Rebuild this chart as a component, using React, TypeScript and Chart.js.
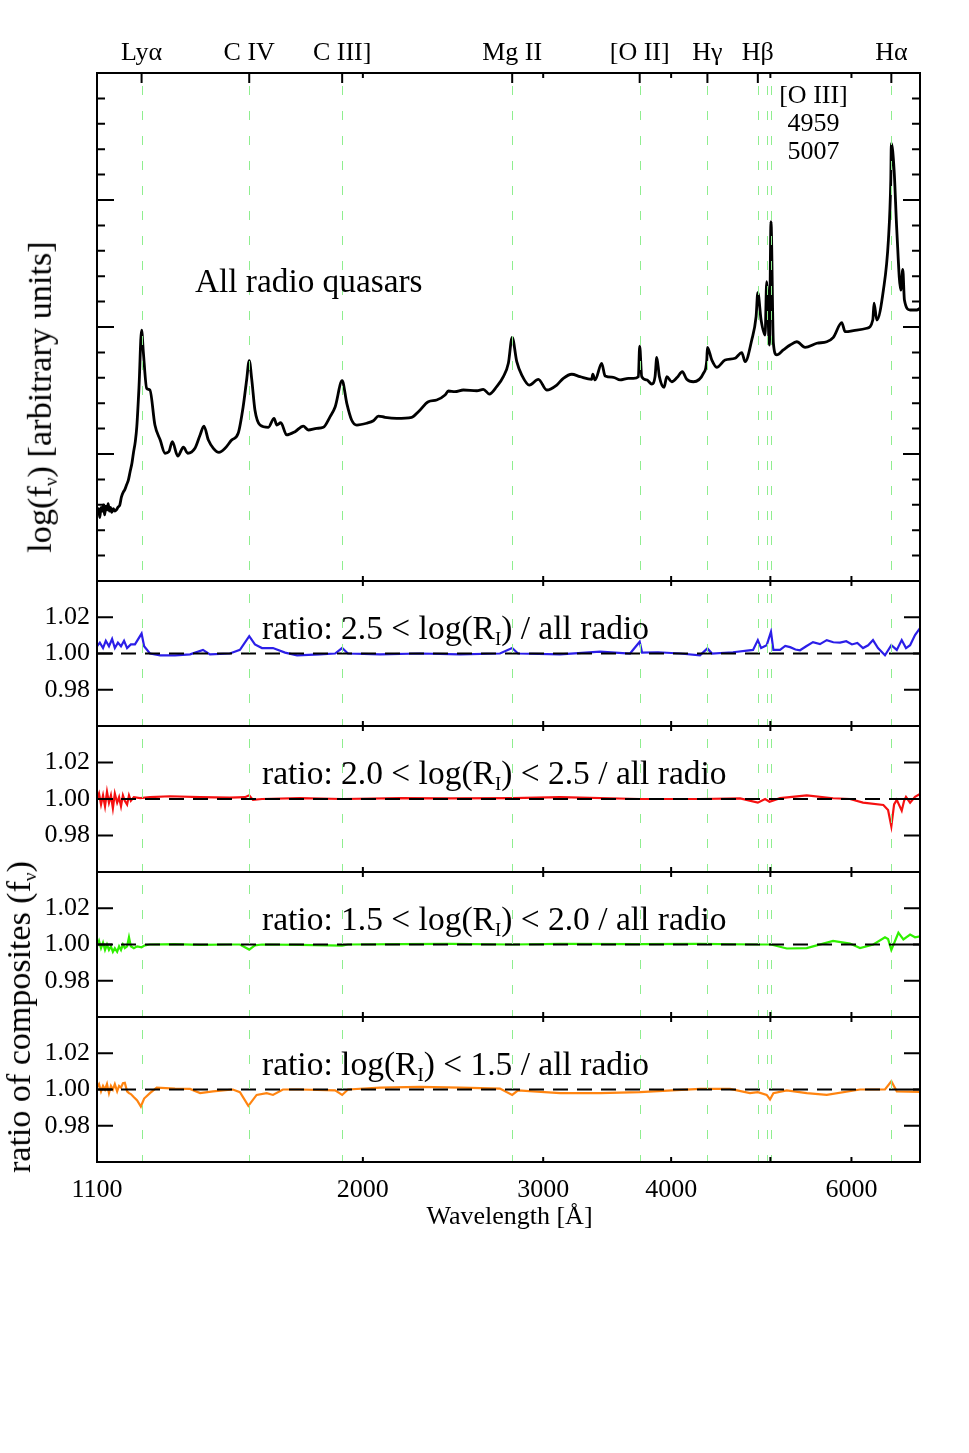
import React, { useEffect, useRef } from "react";
import { Chart, registerables } from "chart.js";

Chart.register(...registerables);

const FONT = "'Liberation Serif', 'Times New Roman', serif";

// ---- axis ranges & ticks ----
const waveMin = 1100;
const waveMax = 7000;
const unityLevel = 1.0;

const lineLabelWaves = [1216, 1549, 1909, 2798, 3727, 4340, 4861, 6563];
const lineLabels = ["Lyα", "C IV", "C III]", "Mg II", "[O II]", "Hγ", "Hβ", "Hα"];
const markerWaves = [1216, 1549, 1909, 2798, 3727, 4340, 4861, 4959, 5007, 6563];
const xMajorTicks = [2000, 3000, 4000, 5000, 6000];
const xTickLabelValues = [1100, 2000, 3000, 4000, 6000];
const fluxTicks = [0, 0.2, 0.4, 0.6, 0.8, 1, 1.2, 1.4, 1.6, 1.8, 2, 2.2, 2.4, 2.6, 2.8, 3, 3.2, 3.4, 3.6, 3.8, 4];
const fluxMajorTicks = [0, 1, 2, 3, 4];
const ratioTicks = [0.98, 1.0, 1.02];

// ---- composite spectrum (log f_nu, arbitrary units) ----
const specWave = [
  1100, 1104, 1107, 1110, 1113, 1116, 1119, 1122, 1125, 1128, 1131, 1134, 1137, 1141, 1145, 1149, 1153, 1158,
  1162, 1167, 1171, 1176, 1180, 1185, 1190, 1194, 1199, 1203, 1209, 1216, 1221, 1230, 1239, 1253, 1268, 1282,
  1293, 1303, 1319, 1336, 1349, 1371, 1387, 1399, 1413, 1429, 1447, 1467, 1489, 1511, 1528, 1540, 1549, 1558,
  1569, 1587, 1617, 1638, 1648, 1663, 1685, 1717, 1749, 1769, 1803, 1830, 1858, 1879, 1909, 1929, 1950, 1973,
  2017, 2048, 2071, 2102, 2158, 2232, 2266, 2317, 2361, 2406, 2424, 2460, 2507, 2584, 2622, 2658, 2702, 2743,
  2774, 2798, 2827, 2859, 2908, 2968, 3024, 3093, 3139, 3199, 3259, 3346, 3354, 3371, 3422, 3448, 3513, 3566,
  3633, 3674, 3716, 3727, 3744, 3787, 3830, 3858, 3873, 3896, 3937, 3961, 4006, 4056, 4102, 4143, 4205, 4301,
  4334, 4340, 4383, 4432, 4516, 4618, 4689, 4724, 4795, 4842, 4861, 4897, 4941, 4959, 4989, 5007, 5034, 5072,
  5148, 5227, 5306, 5406, 5550, 5676, 5761, 5871, 5915, 6073, 6211, 6295, 6313, 6352, 6447, 6520, 6555, 6563,
  6604, 6644, 6704, 6734, 6759, 6846, 6950, 7000,
];
const specFlux = [
  0.53, 0.57, 0.5, 0.58, 0.55, 0.6, 0.52, 0.59, 0.56, 0.61, 0.55, 0.58, 0.54, 0.57, 0.55, 0.56, 0.58, 0.6,
  0.66, 0.7, 0.72, 0.76, 0.79, 0.86, 0.93, 1.01, 1.1, 1.215, 1.53, 1.976, 1.795, 1.517, 1.504, 1.228, 1.11, 1.006,
  1.018, 1.097, 0.984, 1.053, 1.006, 1.045, 1.15, 1.22, 1.11, 1.045, 1.013, 1.045, 1.11, 1.163, 1.372, 1.583, 1.735, 1.583,
  1.346, 1.228, 1.21, 1.281, 1.228, 1.246, 1.15, 1.176, 1.22, 1.189, 1.202, 1.21, 1.294, 1.37, 1.577, 1.399, 1.268, 1.228,
  1.242, 1.262, 1.299, 1.289, 1.281, 1.289, 1.333, 1.412, 1.425, 1.465, 1.496, 1.491, 1.504, 1.498, 1.509, 1.472, 1.53, 1.609,
  1.714, 1.919, 1.727, 1.622, 1.543, 1.588, 1.504, 1.543, 1.596, 1.628, 1.609, 1.588, 1.628, 1.583, 1.714, 1.614, 1.604, 1.583,
  1.596, 1.596, 1.609, 1.85, 1.609, 1.583, 1.551, 1.609, 1.761, 1.609, 1.525, 1.609, 1.569, 1.604, 1.648, 1.588, 1.569, 1.635,
  1.74, 1.84, 1.74, 1.683, 1.74, 1.754, 1.798, 1.727, 1.898, 2.081, 2.27, 2.055, 1.937, 2.357, 1.858, 2.829, 1.872, 1.78,
  1.819, 1.858, 1.884, 1.84, 1.872, 1.884, 1.919, 2.034, 1.963, 1.976, 1.99, 2.055, 2.187, 2.055, 2.291, 2.685, 3.157, 3.446,
  3.236, 2.764, 2.291, 2.454, 2.213, 2.134, 2.134, 2.147,
];

// ---- ratio: 2.5 < log(R_I) / all radio ----
const ratioHighWave = [
  1100, 1107, 1115, 1122, 1130, 1138, 1145, 1153, 1161, 1169, 1177, 1187, 1198, 1216, 1223, 1239, 1268, 1311, 1356, 1396,
  1418, 1483, 1517, 1549, 1569, 1594, 1634, 1679, 1725, 1816, 1879, 1909, 1934, 2079, 2274, 2488, 2722, 2798, 2835, 3116,
  3409, 3647, 3727, 3747, 3884, 4081, 4268, 4340, 4385, 4597, 4809, 4861, 4897, 4959, 5007, 5034, 5110, 5170, 5227, 5290,
  5345, 5420, 5503, 5590, 5676, 5760, 5848, 5930, 6007, 6080, 6158, 6230, 6298, 6369, 6470, 6563, 6644, 6718, 6783, 6846,
  6922, 7000,
];
const ratioHighValue = [
  1.004, 1.006, 1.003, 1.007, 1.004, 1.008, 1.003, 1.006, 1.004, 1.007, 1.003, 1.005, 1.005, 1.011, 1.004, 1.0, 0.999, 0.999, 0.9995, 1.002,
  0.9995, 1.0, 1.002, 1.0096, 1.005, 1.003, 1.003, 1.0005, 0.999, 0.9995, 1.0, 1.003, 1.0, 0.9995, 1.0, 0.9995, 1.0, 1.003, 1.0, 0.9995,
  1.001, 1.0, 1.0065, 1.0005, 1.0007, 1.0, 0.999, 1.0028, 1.0, 1.0007, 1.002, 1.0074, 1.003, 1.0046, 1.012, 1.002, 1.002, 1.0042, 1.0035, 1.0022,
  1.0018, 1.004, 1.0063, 1.0052, 1.0074, 1.0062, 1.006, 1.0068, 1.005, 1.0058, 1.003, 1.0045, 1.0074, 1.003, 0.999, 1.0046, 1.002, 1.0074, 1.003, 1.0046,
  1.0102, 1.014,
];

// ---- ratio: 2.0 < log(R_I) < 2.5 / all radio ----
const ratioMidWave = [
  1100, 1105, 1110, 1115, 1120, 1125, 1130, 1135, 1140, 1145, 1151, 1156, 1161, 1166, 1171, 1177, 1182, 1187, 1195, 1212,
  1239, 1296, 1387, 1483, 1534, 1549, 1562, 1594, 1736, 1909, 2174, 2433, 2798, 3116, 3727, 4268, 4671, 4861, 4941, 4990,
  5110, 5426, 5757, 5980, 6158, 6446, 6515, 6563, 6604, 6644, 6718, 6754, 6783, 6846, 6922, 7000,
];
const ratioMidValue = [
  1.0, 1.003, 0.997, 1.002, 0.996, 1.004, 0.998, 1.002, 0.995, 1.003, 0.998, 1.001, 0.996, 1.002, 0.999, 0.997, 1.002, 0.999, 1.001, 1.0005,
  1.001, 1.0015, 1.001, 1.0008, 1.001, 1.002, 0.9995, 1.0, 1.0005, 1.0, 1.0005, 1.0003, 1.0005, 1.001, 1.0, 1.0, 1.0003, 0.998, 1.0, 0.9985,
  1.0005, 1.002, 1.0004, 1.0, 0.998, 0.9967, 0.994, 0.985, 0.997, 0.9995, 0.9936, 0.999, 1.0012, 0.998, 1.0012, 1.0028,
];

// ---- ratio: 1.5 < log(R_I) < 2.0 / all radio ----
const ratioLowWave = [
  1100, 1105, 1110, 1115, 1120, 1125, 1130, 1135, 1140, 1145, 1151, 1156, 1161, 1166, 1171, 1177, 1182, 1187, 1195, 1204,
  1216, 1225, 1239, 1311, 1387, 1483, 1517, 1549, 1569, 1594, 1736, 1909, 1934, 2174, 2433, 2798, 3116, 3727, 4268, 4861,
  5007, 5188, 5426, 5757, 5980, 6117, 6303, 6470, 6515, 6563, 6668, 6743, 6846, 6922, 7000,
];
const ratioLowValue = [
  0.999, 1.002, 0.998, 1.001, 0.997, 1.0, 0.997, 0.999, 0.996, 0.998, 0.996, 0.999, 0.997, 1.0, 0.998, 0.999, 1.004, 0.999, 0.998, 0.999,
  0.9985, 0.9995, 1.0, 1.0002, 0.9998, 1.0, 1.0, 0.9972, 0.9995, 1.0, 0.9998, 0.9994, 1.0, 1.0002, 1.0003, 1.0, 1.0003, 1.0002, 1.0003, 1.0,
  1.0, 0.9978, 0.998, 1.002, 1.0005, 0.998, 1.0, 1.004, 1.003, 0.997, 1.0065, 1.0028, 1.0055, 1.004, 1.0045,
];

// ---- ratio: log(R_I) < 1.5 / all radio ----
const ratioLowestWave = [
  1100, 1105, 1110, 1115, 1120, 1125, 1130, 1135, 1140, 1145, 1151, 1156, 1161, 1166, 1171, 1177, 1182, 1187, 1194, 1204,
  1214, 1223, 1239, 1258, 1311, 1356, 1387, 1428, 1493, 1517, 1546, 1575, 1611, 1634, 1671, 1736, 1879, 1909, 1934, 2079,
  2274, 2488, 2722, 2798, 2835, 3116, 3409, 3727, 4268, 4566, 4776, 4861, 4959, 4996, 5034, 5188, 5426, 5676, 6117, 6470,
  6563, 6644, 7000,
];
const ratioLowestValue = [
  1.001, 1.003, 0.999, 1.002, 1.0, 1.003, 0.998, 1.002, 1.0, 1.003, 0.999, 1.002, 1.001, 1.0035, 1.0037, 0.999, 0.998, 0.9975, 0.996, 0.994,
  0.9906, 0.995, 0.998, 1.001, 1.0005, 1.0003, 0.998, 0.999, 1.0, 0.9985, 0.991, 0.997, 0.998, 0.997, 1.0, 1.0, 0.9995, 0.997, 1.0, 1.001,
  1.0015, 1.001, 1.0005, 0.997, 0.9995, 0.998, 0.998, 0.9985, 1.0003, 1.0003, 0.998, 0.9985, 0.997, 0.9945, 0.998, 0.9995, 0.998, 0.997, 1.0, 1.0,
  1.0045, 0.999, 0.9987,
];

const toPoints = (w: number[], v: number[]) => w.map((x, i) => ({ x, y: v[i] }));

type DecorOpts = {
  yTicks: number[];
  yMajor: number[];
  majorLen: number;
  minorLen: number;
  topLineTicks?: number[];
};

function makeDecor(opts: DecorOpts) {
  return {
    id: "decor",
    afterDatasetsDraw(chart: any) {
      const { ctx, chartArea: a } = chart;
      const xs = chart.scales.x;
      ctx.save();
      ctx.beginPath();
      ctx.rect(a.left, a.top, a.right - a.left, a.bottom - a.top);
      ctx.clip();
      ctx.strokeStyle = "#8fee8f";
      ctx.lineWidth = 1;
      ctx.setLineDash([9, 16]);
      ctx.lineDashOffset = 12;
      for (const w of markerWaves) {
        const px = Math.round(xs.getPixelForValue(w)) + 0.5;
        ctx.beginPath();
        ctx.moveTo(px, a.top);
        ctx.lineTo(px, a.bottom);
        ctx.stroke();
      }
      ctx.restore();
    },
    afterDraw(chart: any) {
      const { ctx, chartArea: a } = chart;
      const xs = chart.scales.x;
      const ys = chart.scales.y;
      ctx.save();
      ctx.strokeStyle = "#000";
      ctx.lineWidth = 2;
      ctx.setLineDash([]);
      ctx.beginPath();
      for (const w of xMajorTicks) {
        const px = xs.getPixelForValue(w);
        ctx.moveTo(px, a.bottom);
        ctx.lineTo(px, a.bottom - 5);
        ctx.moveTo(px, a.top);
        ctx.lineTo(px, a.top + 5);
      }
      if (opts.topLineTicks) {
        for (const w of opts.topLineTicks) {
          const px = xs.getPixelForValue(w);
          ctx.moveTo(px, a.top);
          ctx.lineTo(px, a.top + 10);
        }
      }
      for (const v of opts.yTicks) {
        const py = ys.getPixelForValue(v);
        if (py <= a.top + 1 || py >= a.bottom - 1) continue;
        const len = opts.yMajor.includes(v) ? opts.majorLen : opts.minorLen;
        ctx.moveTo(a.left, py);
        ctx.lineTo(a.left + len, py);
        ctx.moveTo(a.right, py);
        ctx.lineTo(a.right - len, py);
      }
      ctx.stroke();
      ctx.strokeRect(a.left, a.top, a.right - a.left, a.bottom - a.top);
      ctx.restore();
    },
  };
}

const baseOptions = {
  animation: false as const,
  responsive: false,
  devicePixelRatio: 1,
  events: [] as any[],
  plugins: {
    legend: { display: false },
    tooltip: { enabled: false },
    title: { display: false },
  },
};

const W = 969;
const PLOT_LEFT = 97;
const PLOT_RIGHT = 920;

const noEdgePadding = (s: any) => {
  s.paddingTop = 0;
  s.paddingBottom = 0;
  s.paddingLeft = 0;
  s.paddingRight = 0;
};

function spectrumConfig(canvasH: number): any {
  return {
    type: "line",
    data: {
      datasets: [
        {
          data: toPoints(specWave, specFlux),
          borderColor: "#000",
          borderWidth: 2.8,
          pointRadius: 0,
          cubicInterpolationMode: "monotone",
          borderJoinStyle: "round",
          xAxisID: "x",
          yAxisID: "y",
        },
      ],
    },
    options: {
      ...baseOptions,
      layout: { padding: { left: 0, right: W - PLOT_RIGHT, top: 0, bottom: canvasH - 581 } },
      scales: {
        x: { type: "logarithmic", min: waveMin, max: waveMax, display: false },
        xTop: {
          type: "logarithmic",
          position: "top",
          min: waveMin,
          max: waveMax,
          grid: { display: false, drawTicks: false },
          border: { display: false },
          afterBuildTicks: (s: any) => {
            s.ticks = lineLabelWaves.map((value) => ({ value }));
          },
          afterFit: (s: any) => {
            s.height = 73;
            noEdgePadding(s);
          },
          ticks: {
            autoSkip: false,
            maxRotation: 0,
            minRotation: 0,
            padding: 4,
            color: "#000",
            font: { family: FONT, size: 26 },
            callback: (_v: any, i: number) => lineLabels[i],
          },
        },
        y: {
          min: 0,
          max: 4,
          grid: { display: false, drawTicks: false },
          border: { display: false },
          ticks: { display: false },
          afterFit: (s: any) => {
            s.width = PLOT_LEFT;
            noEdgePadding(s);
          },
        },
      },
    },
    plugins: [
      makeDecor({ yTicks: fluxTicks, yMajor: fluxMajorTicks, majorLen: 17, minorLen: 8, topLineTicks: lineLabelWaves }),
    ],
  };
}

function ratioConfig(wave: number[], vals: number[], color: string, withXLabels: boolean): any {
  return {
    type: "line",
    data: {
      datasets: [
        {
          data: [
            { x: waveMin, y: unityLevel },
            { x: waveMax, y: unityLevel },
          ],
          borderColor: "#000",
          borderWidth: 2,
          borderDash: [15, 9],
          pointRadius: 0,
          order: 0,
          xAxisID: "x",
          yAxisID: "y",
        },
        {
          data: toPoints(wave, vals),
          borderColor: color,
          borderWidth: 2.2,
          pointRadius: 0,
          tension: 0,
          order: 1,
          xAxisID: "x",
          yAxisID: "y",
        },
      ],
    },
    options: {
      ...baseOptions,
      layout: { padding: { left: 0, right: W - PLOT_RIGHT, top: 6, bottom: withXLabels ? 20 : 6 } },
      scales: {
        x: withXLabels
          ? {
              type: "logarithmic",
              min: waveMin,
              max: waveMax,
              position: "bottom",
              grid: { display: false, drawTicks: false },
              border: { display: false },
              afterBuildTicks: (s: any) => {
                s.ticks = xTickLabelValues.map((value) => ({ value }));
              },
              afterFit: (s: any) => {
                s.height = 60;
                noEdgePadding(s);
              },
              ticks: {
                autoSkip: false,
                maxRotation: 0,
                minRotation: 0,
                padding: 13,
                color: "#000",
                font: { family: FONT, size: 26 },
                callback: (v: any) => String(v),
              },
            }
          : { type: "logarithmic", min: waveMin, max: waveMax, display: false },
        y: {
          min: 0.96,
          max: 1.04,
          grid: { display: false, drawTicks: false },
          border: { display: false },
          afterBuildTicks: (s: any) => {
            s.ticks = ratioTicks.map((value) => ({ value }));
          },
          afterFit: (s: any) => {
            s.width = PLOT_LEFT;
            noEdgePadding(s);
          },
          ticks: {
            padding: 7,
            color: "#000",
            font: { family: FONT, size: 26 },
            callback: (v: any) => Number(v).toFixed(2),
          },
        },
      },
    },
    plugins: [makeDecor({ yTicks: ratioTicks, yMajor: ratioTicks, majorLen: 16, minorLen: 16 })],
  };
}

function ChartCanvas({ top, height, build }: { top: number; height: number; build: () => any }) {
  const ref = useRef<HTMLCanvasElement | null>(null);
  useEffect(() => {
    if (!ref.current) return;
    const chart = new Chart(ref.current, build());
    return () => chart.destroy();
  }, []);
  return (
    <canvas
      ref={ref}
      width={W}
      height={height}
      style={{ position: "absolute", left: 0, top, width: W, height, display: "block" }}
    />
  );
}

function Txt({
  x,
  baseline,
  size,
  center,
  children,
}: {
  x: number;
  baseline: number;
  size: number;
  center?: boolean;
  children: React.ReactNode;
}) {
  return (
    <div
      style={{
        position: "absolute",
        left: x,
        top: baseline - 0.8375 * size,
        fontFamily: FONT,
        fontSize: size,
        lineHeight: `${size}px`,
        whiteSpace: "nowrap",
        color: "#000",
        transform: center ? "translateX(-50%)" : undefined,
      }}
    >
      {children}
    </div>
  );
}

function VTxt({ cx, cy, size, children }: { cx: number; cy: number; size: number; children: React.ReactNode }) {
  return (
    <div
      style={{
        position: "absolute",
        left: cx,
        top: cy,
        fontFamily: FONT,
        fontSize: size,
        lineHeight: `${size}px`,
        whiteSpace: "nowrap",
        color: "#000",
        transform: "translate(-50%, -50%) rotate(-90deg)",
      }}
    >
      {children}
    </div>
  );
}

const subStyle: React.CSSProperties = { fontSize: "0.56em", verticalAlign: "-0.3em", lineHeight: 0 };

const panelTops = [581, 726, 872, 1017];
const panelBottoms = [726, 872, 1017, 1162];

export default function App() {
  const ratioSets = [
    { w: ratioHighWave, v: ratioHighValue, c: "#2b1ee8" },
    { w: ratioMidWave, v: ratioMidValue, c: "#f51010" },
    { w: ratioLowWave, v: ratioLowValue, c: "#2ff000" },
    { w: ratioLowestWave, v: ratioLowestValue, c: "#ff8410" },
  ];
  const ratioTexts: React.ReactNode[] = [
    <>ratio: 2.5 &lt; log(R<sub style={subStyle}>I</sub>) / all radio</>,
    <>ratio: 2.0 &lt; log(R<sub style={subStyle}>I</sub>) &lt; 2.5 / all radio</>,
    <>ratio: 1.5 &lt; log(R<sub style={subStyle}>I</sub>) &lt; 2.0 / all radio</>,
    <>ratio: log(R<sub style={subStyle}>I</sub>) &lt; 1.5 / all radio</>,
  ];
  return (
    <div style={{ position: "absolute", left: 0, top: 0, width: W, height: 1453, background: "#fff", overflow: "hidden" }}>
      <ChartCanvas top={0} height={590} build={() => spectrumConfig(590)} />
      {ratioSets.map((s, k) => {
        const plotH = panelBottoms[k] - panelTops[k];
        const last = k === 3;
        const h = last ? plotH + 86 : plotH + 12;
        return <ChartCanvas key={k} top={panelTops[k] - 6} height={h} build={() => ratioConfig(s.w, s.v, s.c, last)} />;
      })}
      <Txt x={195} baseline={291.7} size={33.3}>All radio quasars</Txt>
      {ratioTexts.map((t, k) => (
        <Txt key={k} x={262} baseline={panelTops[k] + 58.3} size={33.5}>
          {t}
        </Txt>
      ))}
      <Txt x={813.5} baseline={104} size={26} center>[O III]</Txt>
      <Txt x={813.5} baseline={131.5} size={26} center>4959</Txt>
      <Txt x={813.5} baseline={160} size={26} center>5007</Txt>
      <Txt x={509.5} baseline={1225} size={26} center>Wavelength [Å]</Txt>
      <VTxt cx={39} cy={397} size={34.3}>
        log(f<sub style={subStyle}>ν</sub>) [arbitrary units]
      </VTxt>
      <VTxt cx={19} cy={1017} size={34}>
        ratio of composites (f<sub style={subStyle}>ν</sub>)
      </VTxt>
    </div>
  );
}
